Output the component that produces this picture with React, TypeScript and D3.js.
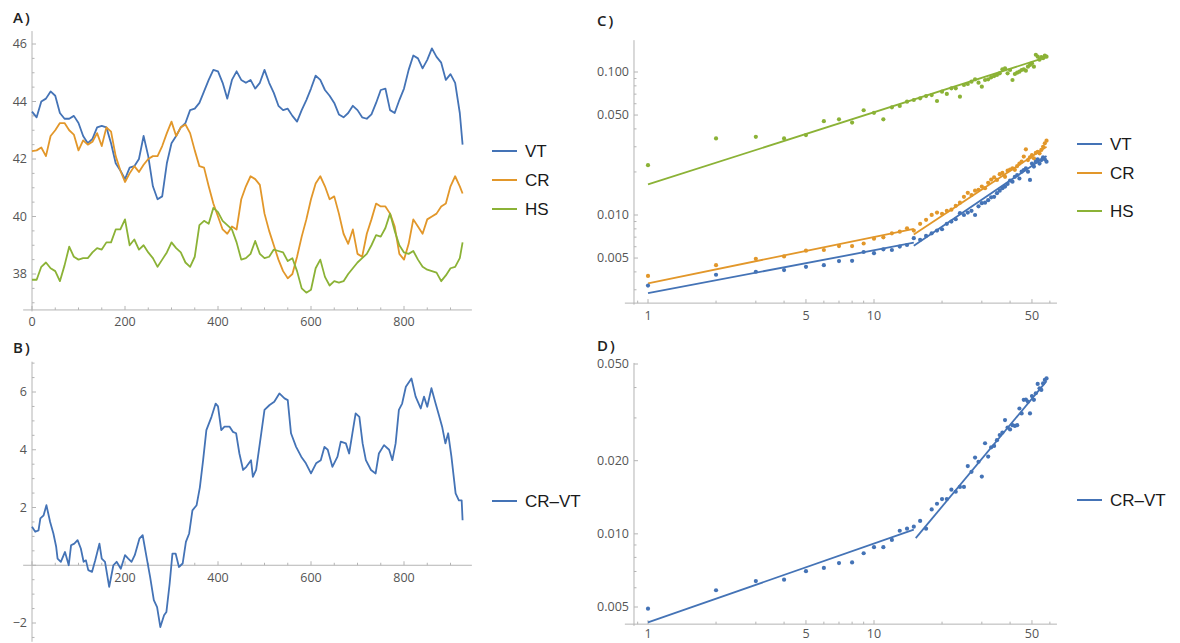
import * as d3 from "d3";
import React from "react";

const BLUE = "#4473b6";
const ORANGE = "#e2972a";
const GREEN = "#8bb236";
const AXIS = "#b4b4b4";
const TICKTXT = "#555";
const FONT = "'Open Sans', 'DejaVu Sans', sans-serif";
const LEGEND_FONT = "'Liberation Sans', Arial, sans-serif";

// ---- panel A / B : time series ----
const timesA = d3.range(0, 921, 10).concat([926]);
const vtSeries = [
  43.65, 43.45, 44.0, 44.1, 44.35, 44.2, 43.6, 43.4, 43.4, 43.5,
  43.25, 42.8, 42.55, 42.7, 43.1, 43.15, 43.1, 42.55, 41.85, 41.6,
  41.3, 41.7, 41.75, 42.0, 42.8, 42.1, 41.05, 40.6, 40.7, 41.85,
  42.55, 42.8, 43.1, 43.25, 43.7, 43.75, 43.95, 44.35, 44.75, 45.1,
  45.05, 44.65, 44.1, 44.75, 45.05, 44.75, 44.65, 44.75, 44.45, 44.65,
  45.1, 44.65, 44.3, 43.85, 43.7, 43.75, 43.5, 43.3, 43.7, 44.05,
  44.45, 44.9, 44.75, 44.4, 44.2, 43.95, 43.55, 43.45, 43.6, 43.85,
  43.7, 43.45, 43.4, 43.55, 43.95, 44.4, 44.45, 43.7, 43.6, 44.05,
  44.45, 45.1, 45.6, 45.5, 45.15, 45.45, 45.85, 45.55, 45.35, 44.75,
  44.95, 44.65, 43.6, 42.5,
];
const crSeries = [
  42.27, 42.3, 42.4, 42.1, 42.8, 43.0, 43.25, 43.25, 43.0, 42.85,
  42.3, 42.65, 42.5, 42.6, 42.9, 42.45, 43.1, 42.95, 42.1, 41.6,
  41.2, 41.5, 41.75, 41.55, 41.8, 42.0, 42.1, 42.1, 42.45, 42.9,
  43.3, 42.8, 43.1, 43.2, 42.9, 42.3, 41.75, 41.7, 41.05, 40.45,
  40.0, 39.55, 39.4, 39.65, 39.55, 40.6, 41.05, 41.4, 41.3, 41.1,
  40.1, 39.5, 39.0, 38.5, 38.1, 37.85, 38.0, 38.6, 39.3, 39.9,
  40.6, 41.15, 41.4, 41.05, 40.6, 40.7, 40.1, 39.4, 39.05, 39.55,
  38.7, 38.6, 39.4, 39.9, 40.45, 40.35, 40.35, 40.1, 39.65, 38.7,
  38.5, 39.05, 39.9, 39.65, 39.4, 39.9, 40.0, 40.1, 40.35, 40.45,
  41.05, 41.4, 41.05, 40.8,
];
const hsSeries = [
  37.8, 37.8, 38.25, 38.4, 38.2, 38.1, 37.75, 38.3, 38.95, 38.6,
  38.5, 38.55, 38.55, 38.75, 38.9, 38.85, 39.1, 39.1, 39.55, 39.55,
  39.9, 39.0, 39.2, 38.85, 39.0, 38.75, 38.55, 38.25, 38.5, 38.75,
  39.1, 38.9, 38.75, 38.4, 38.25, 38.6, 39.7, 39.85, 39.75, 40.3,
  40.15, 39.85, 39.7, 39.55, 39.1, 38.5, 38.55, 38.7, 39.15, 38.7,
  38.55, 38.6, 38.85, 38.8, 38.75, 38.45, 38.55, 38.1, 37.5, 37.35,
  37.45, 38.2, 38.5, 37.9, 37.6, 37.75, 37.7, 37.75, 38.0, 38.2,
  38.4, 38.55, 38.7, 39.0, 39.35, 39.3, 39.6, 40.1, 39.5, 39.0,
  38.75, 38.7, 38.8, 38.5, 38.25, 38.15, 38.1, 38.05, 37.75, 37.95,
  38.2, 38.25, 38.55, 39.1,
];
const diffSeries: [number, number][] = [
  [0, 1.33], [7, 1.16], [14, 1.21], [18, 1.62], [25, 1.73], [31, 2.08], [39, 1.5], [46, 1.1],
  [52, 0.64], [55, 0.23], [62, 0.12], [71, 0.46], [79, 0.0], [84, 0.69], [91, 0.75], [98, 0.87],
  [105, 0.58], [111, 0.12], [116, 0.17], [121, -0.17], [129, -0.23], [136, 0.17], [145, 0.75],
  [150, 0.23], [157, 0.12], [166, -0.75], [175, 0.0], [182, 0.12], [191, -0.12], [200, 0.35],
  [207, 0.23], [214, 0.12], [221, 0.35], [231, 0.92], [238, 1.04], [245, 0.4], [254, -0.4],
  [262, -1.21], [269, -1.45], [276, -2.14], [284, -1.73], [289, -1.62], [296, -0.64], [302, 0.4],
  [309, 0.4], [316, -0.06], [324, 0.06], [331, 0.81], [338, 1.1], [345, 1.9], [354, 2.08],
  [361, 2.7], [368, 3.64], [375, 4.68], [386, 5.14], [395, 5.6], [400, 5.5], [407, 4.68],
  [414, 4.8], [425, 4.8], [432, 4.62], [439, 4.57], [446, 3.87], [454, 3.3], [461, 3.41],
  [471, 3.64], [475, 3.06], [482, 3.3], [493, 4.57], [500, 5.38], [511, 5.55], [521, 5.66],
  [532, 5.95], [543, 5.78], [550, 5.72], [557, 4.57], [568, 4.1], [579, 3.76], [589, 3.53],
  [600, 3.18], [611, 3.53], [621, 3.64], [629, 4.1], [636, 4.0], [646, 3.41], [657, 3.76],
  [664, 4.28], [675, 4.22], [682, 3.87], [689, 4.57], [696, 5.26], [704, 5.14], [711, 4.22],
  [718, 3.64], [729, 3.3], [739, 3.18], [746, 3.87], [757, 4.16], [768, 4.0], [775, 3.64],
  [782, 4.22], [789, 5.38], [796, 5.6], [804, 6.18], [816, 6.47], [825, 5.84], [836, 5.43],
  [843, 5.84], [850, 5.49], [859, 6.13], [868, 5.6], [875, 5.2], [882, 4.8], [889, 4.22],
  [895, 4.57], [902, 3.76], [911, 2.49], [918, 2.25], [924, 2.25], [926, 1.56],
];

// ---- panel C / D : log-log fluctuation vs lag ----
const lags = d3.range(1, 59);
const vtFluct = [
  0.00321, 0.00382, 0.00401, 0.00412, 0.00434, 0.00446, 0.00476, 0.00478, 0.00551, 0.00541,
  0.00575, 0.00569, 0.00601, 0.00617, 0.00688, 0.0067, 0.00714, 0.00744, 0.00778, 0.00795,
  0.00867, 0.009, 0.00934, 0.0103, 0.01, 0.0104, 0.0107, 0.01, 0.0115, 0.0121,
  0.0122, 0.0127, 0.0133, 0.0134, 0.0142, 0.0148, 0.0154, 0.0158, 0.0165, 0.0174,
  0.0171, 0.0185, 0.019, 0.018, 0.0201, 0.0206, 0.0212, 0.0201, 0.0176, 0.0229,
  0.0218, 0.0236, 0.0245, 0.0229, 0.0242, 0.0253, 0.0245, 0.0236,
];
const crFluct = [
  0.00375, 0.00446, 0.00494, 0.00513, 0.00563, 0.00569, 0.00606, 0.00606, 0.00632, 0.00683,
  0.00698, 0.00744, 0.00765, 0.00807, 0.00778, 0.00867, 0.00925, 0.01001, 0.0104, 0.0102,
  0.0107, 0.0109, 0.0116, 0.0122, 0.0134, 0.0143, 0.0138, 0.0148, 0.015, 0.0158,
  0.0154, 0.0168, 0.0177, 0.0183, 0.0176, 0.0193, 0.0197, 0.0185, 0.0204, 0.0208,
  0.0212, 0.0207, 0.022, 0.0229, 0.0236, 0.0256, 0.0288, 0.0242, 0.0253, 0.0262,
  0.0249, 0.0272, 0.0277, 0.027, 0.0285, 0.03, 0.0317, 0.0331,
];
const hsFluct = [
  0.0223, 0.0343, 0.0352, 0.0343, 0.0362, 0.0453, 0.0467, 0.0443, 0.054, 0.0518,
  0.0467, 0.0566, 0.0579, 0.062, 0.0637, 0.0654, 0.0679, 0.069, 0.0627, 0.0729,
  0.0702, 0.0769, 0.0769, 0.0672, 0.0811, 0.0824, 0.0856, 0.0889, 0.0842, 0.079,
  0.0879, 0.0889, 0.0918, 0.0937, 0.0953, 0.0979, 0.1044, 0.1061, 0.0979, 0.1033,
  0.0879, 0.0968, 0.0989, 0.1005, 0.1033, 0.1044, 0.1022, 0.109, 0.112, 0.115,
  0.109, 0.132, 0.128, 0.122, 0.127, 0.125, 0.13, 0.128,
];
const diffFluct = [
  0.00492, 0.00586, 0.00639, 0.00648, 0.00702, 0.00724, 0.00758, 0.00763, 0.00832, 0.00881,
  0.00881, 0.00944, 0.0103, 0.0105, 0.0107, 0.0113, 0.0105, 0.0126, 0.0133, 0.0139,
  0.0139, 0.0152, 0.0149, 0.0156, 0.0156, 0.019, 0.018, 0.0206, 0.0198, 0.0172,
  0.0236, 0.0208, 0.0227, 0.023, 0.0243, 0.0255, 0.0261, 0.0294, 0.0274, 0.0269,
  0.028, 0.0278, 0.028, 0.0328, 0.0313, 0.0356, 0.0357, 0.035, 0.0313, 0.0369,
  0.0356, 0.0379, 0.0414, 0.0397, 0.0391, 0.0416, 0.043, 0.0436,
];
// fitted segments (lag, value)
const vtFit: [number, number][][] = [[[1, 0.00284], [15, 0.0064]], [[15, 0.0061], [58, 0.0259]]];
const crFit: [number, number][][] = [[[1, 0.00333], [15, 0.008]], [[15, 0.0073], [58, 0.03]]];
const hsFit: [number, number][][] = [[[1, 0.01637], [58, 0.127]]];
const diffFit: [number, number][][] = [[[1, 0.00432], [15, 0.0104]], [[15.3, 0.0096], [58, 0.0425]]];

// ---- scales ----
const xA = d3.scaleLinear().domain([0, 800]).range([32, 404]);
const yA = d3.scaleLinear().domain([38, 46]).range([274, 44]);
const yB = d3.scaleLinear().domain([-2, 6]).range([623, 392]);
const xC = d3.scaleLog().domain([1, 10]).range([648, 874]);
const yC = d3.scaleLog().domain([0.01, 0.1]).range([215, 72]);
const yD = d3.scaleLog().domain([0.005, 0.05]).range([607, 364]);

type Scale = (v: number) => number;

const logMinor = (lo: number, hi: number, majors: number[]) => {
  const out: number[] = [];
  for (let e = Math.floor(Math.log10(lo)); e <= Math.ceil(Math.log10(hi)); e++) {
    for (let k = 1; k < 10; k++) {
      const v = +(k * Math.pow(10, e)).toPrecision(6);
      if (v >= lo && v <= hi && !majors.some((m) => Math.abs(m - v) < v * 1e-6)) out.push(v);
    }
  }
  return out;
};
const linMinor = (lo: number, hi: number, step: number, majors: number[]) =>
  d3.range(Math.ceil(lo / step) * step, hi + 1e-9, step).filter((v) => !majors.some((m) => Math.abs(m - v) < 1e-9));

interface AxesProps {
  x: Scale; y: Scale;
  xSpan: [number, number]; ySpan: [number, number];
  xCross: number; yCross: number;
  xMajor: number[]; xMinor: number[]; yMajor: number[]; yMinor: number[];
  xLabels: number[]; yLabels: number[];
  xFmt: (v: number) => string; yFmt: (v: number) => string;
  labelOffset?: number;
}

function Axes(p: AxesProps) {
  const ax = p.y(p.yCross);
  const ay = p.x(p.xCross);
  const off = p.labelOffset ?? 16.5;
  return (
    <g>
      <line x1={p.x(p.xSpan[0])} x2={p.x(p.xSpan[1])} y1={ax} y2={ax} stroke={AXIS} strokeWidth={1} />
      <line x1={ay} x2={ay} y1={p.y(p.ySpan[0])} y2={p.y(p.ySpan[1])} stroke={AXIS} strokeWidth={1} />
      {p.xMajor.map((v) => (
        <line key={"xM" + v} x1={p.x(v)} x2={p.x(v)} y1={ax} y2={ax - 4} stroke={AXIS} />
      ))}
      {p.xMinor.map((v) => (
        <line key={"xm" + v} x1={p.x(v)} x2={p.x(v)} y1={ax} y2={ax - 2.5} stroke={AXIS} />
      ))}
      {p.yMajor.map((v) => (
        <line key={"yM" + v} x1={ay} x2={ay + 4} y1={p.y(v)} y2={p.y(v)} stroke={AXIS} />
      ))}
      {p.yMinor.map((v) => (
        <line key={"ym" + v} x1={ay} x2={ay + 2.5} y1={p.y(v)} y2={p.y(v)} stroke={AXIS} />
      ))}
      {p.xLabels.map((v) => (
        <text key={"xl" + v} x={p.x(v)} y={ax + off} textAnchor="middle" fontSize={12.5} fill={TICKTXT} fontFamily={FONT}>
          {p.xFmt(v)}
        </text>
      ))}
      {p.yLabels.map((v) => (
        <text key={"yl" + v} x={ay - 5} y={p.y(v)} dy="0.35em" textAnchor="end" fontSize={12.5} fill={TICKTXT} fontFamily={FONT}>
          {p.yFmt(v)}
        </text>
      ))}
    </g>
  );
}

function Legend({ items, x }: { items: { label: string; color: string; y: number }[]; x: number }) {
  return (
    <g>
      {items.map((it) => (
        <g key={it.label}>
          <line x1={x} x2={x + 25} y1={it.y} y2={it.y} stroke={it.color} strokeWidth={2} />
          <text x={x + 33} y={it.y} dy="0.36em" fontSize={17} fill="#1a1a1a" fontFamily={LEGEND_FONT}>
            {it.label}
          </text>
        </g>
      ))}
    </g>
  );
}

const PanelTag = ({ x, y, t }: { x: number; y: number; t: string }) => (
  <text x={x} y={y} fontSize={15} fontWeight={600} fill="#222" fontFamily={FONT} letterSpacing={2}>
    {t}
  </text>
);

const minusFmt = (v: number) => (v < 0 ? "\u2212" + Math.abs(v) : String(v));

export default function App() {
  const lineA = d3.line<number>().x((_, i) => xA(timesA[i])).y((d) => yA(d));
  const lineB = d3.line<[number, number]>().x((d) => xA(d[0])).y((d) => yB(d[1]));
  const segC = d3.line<[number, number]>().x((d) => xC(d[0])).y((d) => yC(d[1]));
  const segD = d3.line<[number, number]>().x((d) => xC(d[0])).y((d) => yD(d[1]));

  const xMajorA = [0, 200, 400, 600, 800];
  const xMinorA = linMinor(0, 940, 50, xMajorA);
  const xMajorLog = [1, 5, 10, 50];
  const xMinorLog = [0.9, 2, 3, 4, 6, 7, 8, 9, 20, 30, 40, 60];
  const yMajorC = [0.005, 0.01, 0.05, 0.1];
  const yMajorD = [0.005, 0.01, 0.02, 0.05];

  const seriesA = [
    { vals: vtSeries, color: BLUE },
    { vals: crSeries, color: ORANGE },
    { vals: hsSeries, color: GREEN },
  ];
  const seriesC = [
    { vals: hsFluct, fit: hsFit, color: GREEN },
    { vals: crFluct, fit: crFit, color: ORANGE },
    { vals: vtFluct, fit: vtFit, color: BLUE },
  ];

  return (
    <div style={{ position: "absolute", left: 0, top: 0, background: "#fff" }}>
      <svg width={1180} height={643} style={{ display: "block" }}>
        <rect width={1180} height={643} fill="#fff" />

        {/* A */}
        <PanelTag x={13} y={23} t="A)" />
        <Axes
          x={xA} y={yA} xSpan={[-19, 946]} ySpan={[36.7, 46.45]} xCross={0} yCross={36.75}
          xMajor={xMajorA} xMinor={xMinorA} yMajor={[38, 40, 42, 44, 46]}
          yMinor={linMinor(37, 46.4, 0.5, [38, 40, 42, 44, 46])}
          xLabels={xMajorA} yLabels={[38, 40, 42, 44, 46]} xFmt={String} yFmt={String}
        />
        {seriesA.map((s) => (
          <path key={s.color} d={lineA(s.vals) || ""} fill="none" stroke={s.color} strokeWidth={1.8} strokeLinejoin="round" />
        ))}
        <Legend x={492} items={[
          { label: "VT", color: BLUE, y: 151 },
          { label: "CR", color: ORANGE, y: 180 },
          { label: "HS", color: GREEN, y: 209 },
        ]} />

        {/* B */}
        <PanelTag x={13} y={353} t="B)" />
        <Axes
          x={xA} y={yB} xSpan={[-19, 946]} ySpan={[-2.65, 7.05]} xCross={0} yCross={0}
          xMajor={xMajorA} xMinor={xMinorA} yMajor={[-2, 0, 2, 4, 6]}
          yMinor={linMinor(-2.5, 7, 0.5, [-2, 0, 2, 4, 6])}
          xLabels={[200, 400, 600, 800]} yLabels={[-2, 2, 4, 6]} xFmt={String} yFmt={minusFmt}
        />
        <path d={lineB(diffSeries) || ""} fill="none" stroke={BLUE} strokeWidth={1.8} strokeLinejoin="round" />
        <Legend x={492} items={[{ label: "CR\u2013VT", color: BLUE, y: 501 }]} />

        {/* C */}
        <PanelTag x={597} y={26} t="C)" />
        <Axes
          x={xC} y={yC} xSpan={[0.79, 64.5]} ySpan={[0.00236, 0.167]} xCross={0.867} yCross={0.00242}
          xMajor={xMajorLog} xMinor={xMinorLog} yMajor={yMajorC}
          yMinor={logMinor(0.0025, 0.165, yMajorC)}
          xLabels={xMajorLog} yLabels={yMajorC} xFmt={String} yFmt={(v) => v.toFixed(3)}
        />
        {seriesC.map((s) => (
          <g key={s.color}>
            {s.fit.map((seg, i) => (
              <path key={i} d={segC(seg) || ""} fill="none" stroke={s.color} strokeWidth={1.8} />
            ))}
            {s.vals.map((v, i) => (
              <circle key={i} cx={xC(lags[i])} cy={yC(v)} r={2.1} fill={s.color} />
            ))}
          </g>
        ))}
        <Legend x={1077} items={[
          { label: "VT", color: BLUE, y: 144 },
          { label: "CR", color: ORANGE, y: 173 },
          { label: "HS", color: GREEN, y: 211 },
        ]} />

        {/* D */}
        <PanelTag x={597} y={351} t="D)" />
        <Axes
          x={xC} y={yD} xSpan={[0.79, 64.5]} ySpan={[0.00418, 0.0505]} xCross={0.867} yCross={0.00425}
          xMajor={xMajorLog} xMinor={xMinorLog} yMajor={yMajorD}
          yMinor={logMinor(0.0043, 0.05, yMajorD)}
          xLabels={xMajorLog} yLabels={yMajorD} xFmt={String} yFmt={(v) => v.toFixed(3)}
          labelOffset={14}
        />
        {diffFit.map((seg, i) => (
          <path key={i} d={segD(seg) || ""} fill="none" stroke={BLUE} strokeWidth={1.8} />
        ))}
        {diffFluct.map((v, i) => (
          <circle key={i} cx={xC(lags[i])} cy={yD(v)} r={2.1} fill={BLUE} />
        ))}
        <Legend x={1077} items={[{ label: "CR\u2013VT", color: BLUE, y: 500 }]} />
      </svg>
    </div>
  );
}
